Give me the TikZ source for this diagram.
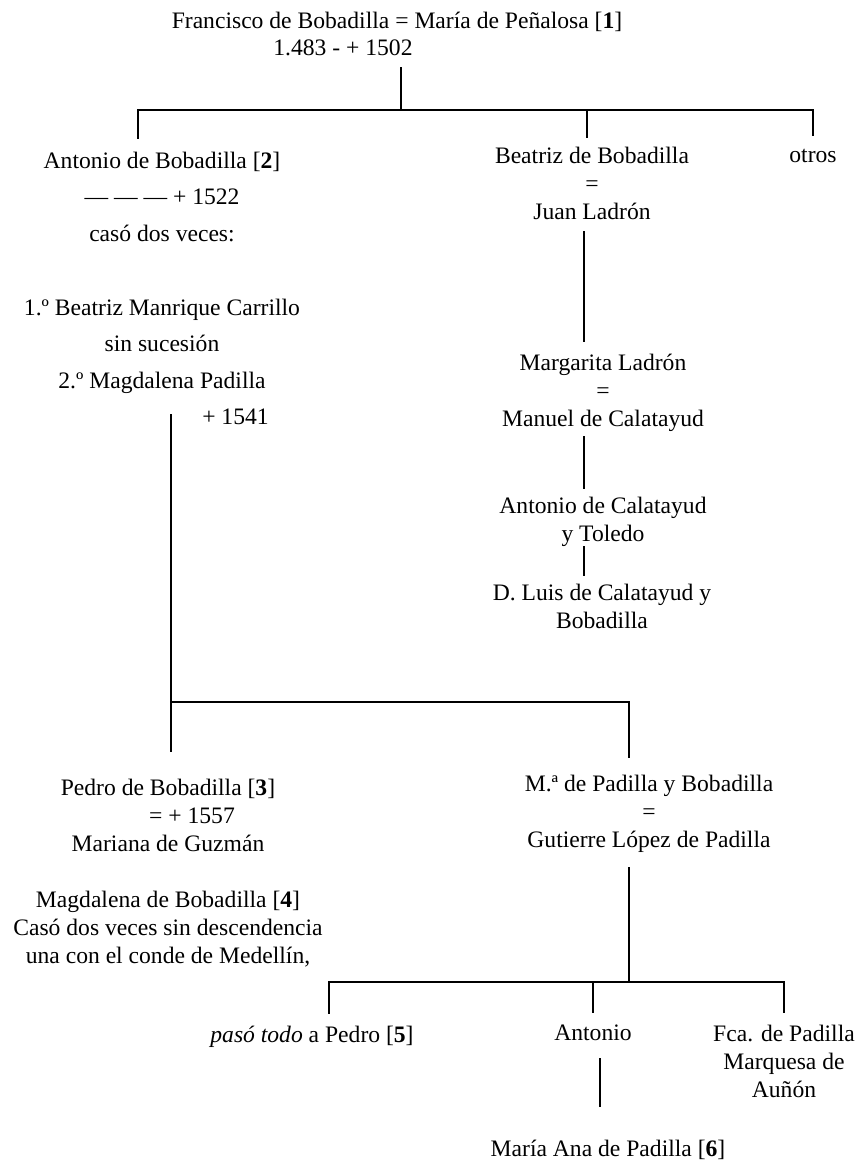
\documentclass[tikz,border=0pt]{standalone}
\usepackage{fontspec}
\setmainfont{Liberation Serif}
\usetikzlibrary{positioning,calc}

\newcommand{\famfont}{\fontsize{11.8}{14}\selectfont}

\begin{document}
\begin{tikzpicture}[
    x=0.5pt, y=-0.5pt,
    person/.style={align=center, inner sep=0pt, font=\famfont},
    tie/.style={line width=1.2pt, line cap=rect},
]
    \useasboundingbox (0,0) rectangle (859,1163);

    % Founders
    \node[person] (fran) at (397, 21.5) {Francisco de Bobadilla = María de Peñalosa [\textbf{1}]};
    \node[person] (franyr) at (343, 48) {1.483 - + 1502};

    % Children of the founders
    \node[person] (ant) at (162, 196.5) {Antonio de Bobadilla [\textbf{2}]\\[4.25pt] --- --- --- + 1522\\[4.25pt] casó dos veces:};
    \node[person] (mar) at (162, 346) {1.º Beatriz Manrique Carrillo\\[4.25pt] sin sucesión\\[4.25pt] 2.º Magdalena Padilla};
    \node[person] (d1541) at (235.5, 417) {+ 1541};
    \node[person] (bea) at (592, 183) {Beatriz de Bobadilla\\ =\\ Juan Ladrón};
    \node[person] (otros) at (813, 156) {otros};

    % Ladrón and Calatayud line
    \node[person] (marg) at (603, 392.5) {Margarita Ladrón\\ =\\ Manuel de Calatayud};
    \node[person] (antc) at (603, 521.5) {Antonio de Calatayud\\ y Toledo};
    \node[person] (luis) at (602, 606) {D. Luis de Calatayud y\\ Bobadilla};

    % Children of Antonio and Magdalena
    \node[person] (pedro) at (168, 815.5) {Pedro de Bobadilla [\textbf{3}]\\ \hspace*{24pt}= + 1557\\ Mariana de Guzmán};
    \node[person] (magd) at (168, 929.5) {Magdalena de Bobadilla [\textbf{4}]\\ Casó dos veces sin descendencia\\ una con el conde de Medellín,};
    \node[person] (mpb) at (649, 813.5) {M.ª de Padilla y Bobadilla\\ =\\ Gutierre López de Padilla};

    % Padilla line
    \node[person] (paso) at (312, 1037) {\textit{pasó todo} a Pedro [\textbf{5}]};
    \node[person] (antp) at (593, 1033) {Antonio};
    \node[person] (fca) at (784, 1061) {Fca. de Padilla\\ Marquesa de\\ Auñón};
    \node[person] (mana) at (608, 1150) {María Ana de Padilla [\textbf{6}]};

    % Junctions and columns
    \coordinate (jtop) at (401, 110);
    \coordinate (jmid) at (171, 702);
    \coordinate (jbot) at (629, 982);
    \coordinate (colant) at (138, 0);
    \coordinate (colbea) at (587, 0);
    \coordinate (colcal) at (584, 0);
    \coordinate (colmag) at (171, 0);
    \coordinate (colmpb) at (629, 0);
    \coordinate (colpaso) at (329, 0);
    \coordinate (colantp) at (600, 0);

    % First bracket
    \draw[tie, shorten <=6pt] (franyr.south -| jtop) -- (jtop);
    \draw[tie, shorten <=6.5pt, shorten >=7pt] (ant.north -| colant) |- (otros.north |- jtop) -- (otros.north);
    \draw[tie, shorten >=5pt] (jtop -| colbea) -- (bea.north -| colbea);

    % Descent of Beatriz
    \draw[tie, shorten <=6pt, shorten >=6.5pt] (bea.south -| colcal) -- (marg.north -| colcal);
    \draw[tie, shorten <=3pt, shorten >=4.5pt] (marg.south -| colcal) -- (antc.north -| colcal);
    \draw[tie, shorten <=0.5pt, shorten >=4.5pt] (antc.south -| colcal) -- (luis.north -| colcal);

    % Descent of Antonio
    \draw[tie, shorten <=11pt, shorten >=14pt] (mar.south -| colmag) -- (pedro.north -| colmag);
    \draw[tie, shorten >=9pt] (jmid) -| (mpb.north -| colmpb);

    % Descent of M.a de Padilla
    \draw[tie, shorten <=8pt] (mpb.south -| colmpb) -- (jbot);
    \draw[tie, shorten <=6.5pt, shorten >=6.5pt] (paso.north -| colpaso) |- (fca.north |- jbot) -- (fca.north);
    \draw[tie, shorten >=6.5pt] (antp.north |- jbot) -- (antp.north);
    \draw[tie, shorten <=9pt, shorten >=17pt] (antp.south -| colantp) -- (mana.north -| colantp);
\end{tikzpicture}
\end{document}
